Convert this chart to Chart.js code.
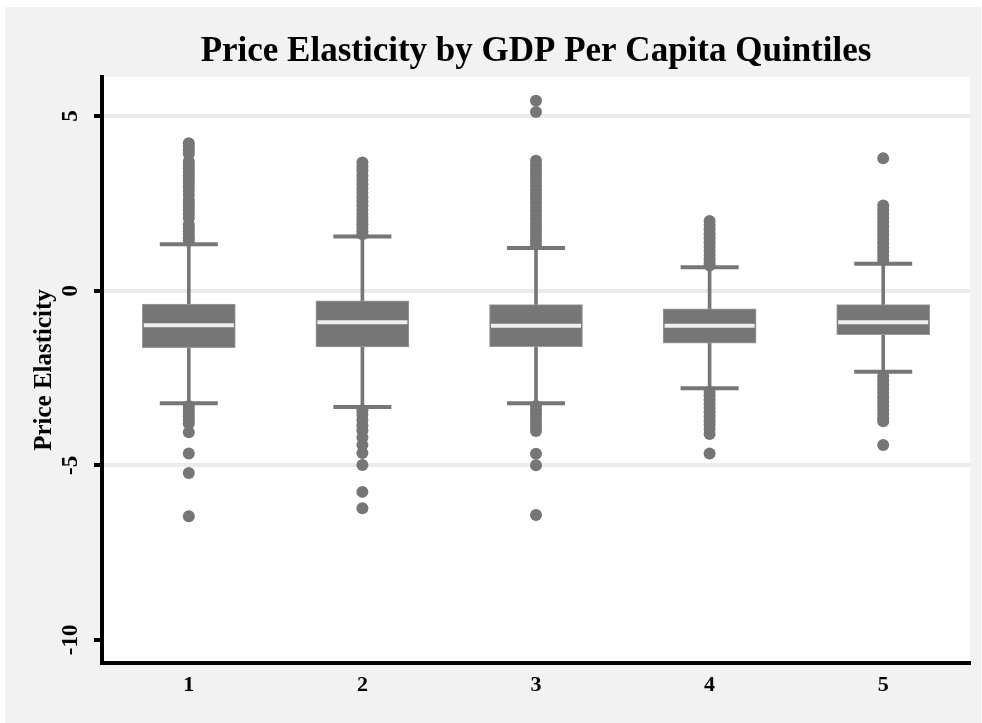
<!DOCTYPE html>
<html>
<head>
<meta charset="utf-8">
<title>Price Elasticity by GDP Per Capita Quintiles</title>
<script src="https://cdn.jsdelivr.net/npm/chart.js@4.4.1/dist/chart.umd.min.js"></script>
<style>
  html, body { margin: 0; padding: 0; background: #ffffff; }
  #panel { position: absolute; left: 5px; top: 7px; width: 976px; height: 716px; background: #f2f2f2; }
  #chart { display: block; }
</style>
</head>
<body>
<div id="panel"><canvas id="chart" width="976" height="716"></canvas></div>
<script>
// quintile categories and box statistics
const quintiles = ["1", "2", "3", "4", "5"];
const whiskerLow = [-3.22, -3.33, -3.22, -2.79, -2.32];
const lowerQuartile = [-1.63, -1.61, -1.60, -1.50, -1.26];
const medians = [-0.99, -0.90, -1.00, -1.00, -0.90];
const upperQuartile = [-0.38, -0.29, -0.40, -0.52, -0.40];
const whiskerHigh = [1.33, 1.55, 1.22, 0.67, 0.77];

// outliers per quintile
const outliers1 = [4.22, 4.12, 4.02, 3.92, 3.7, 3.6, 3.5, 3.4, 3.3, 3.2, 3.1, 2.98, 2.86, 2.74, 2.6, 2.5, 2.4, 2.3, 2.2, 2.08, 1.9, 1.8, 1.7, 1.6, 1.5, 1.43,
  -3.3, -3.4, -3.5, -3.6, -3.7, -3.8, -4.05, -4.66, -5.22, -6.46];
const outliers2 = [3.67, 3.56, 3.45, 3.3, 3.18, 3.05, 2.92, 2.8, 2.68, 2.56, 2.44, 2.32, 2.2, 2.1, 2.0, 1.9, 1.8, 1.7, 1.62,
  -3.42, -3.55, -3.7, -3.85, -4.0, -4.2, -4.42, -4.65, -4.99, -5.76, -6.23];
const outliers3 = [5.44, 5.12, 3.72, 3.6, 3.48, 3.36, 3.24, 3.12, 3.0, 2.88, 2.76, 2.64, 2.52, 2.4, 2.28, 2.16, 2.04, 1.92, 1.8, 1.68, 1.56, 1.44, 1.32,
  -3.3, -3.42, -3.54, -3.66, -3.78, -3.9, -4.02, -4.67, -5.0, -6.42];
const outliers4 = [2.0, 1.88, 1.76, 1.62, 1.5, 1.38, 1.26, 1.14, 1.02, 0.9, 0.8, 0.72,
  -2.9, -3.0, -3.12, -3.24, -3.36, -3.48, -3.6, -3.72, -3.84, -3.96, -4.1, -4.66];
const outliers5 = [3.79, 2.44, 2.32, 2.2, 2.08, 1.96, 1.84, 1.72, 1.6, 1.48, 1.36, 1.24, 1.12, 1.0, 0.88,
  -2.45, -2.57, -2.69, -2.81, -2.93, -3.05, -3.17, -3.29, -3.41, -3.53, -3.65, -3.74, -4.42];

// y axis
const yTicks = [-10, -5, 0, 5];
const yMin = -10.66;
const yMax = 6.12;

const GRAY = "#767676";
const SERIF = "'Liberation Serif', 'Times New Roman', serif";

const outlierLists = [outliers1, outliers2, outliers3, outliers4, outliers5];
const outlierPoints = [];
outlierLists.forEach((list, i) => {
  list.forEach((v) => outlierPoints.push({ x: quintiles[i], y: v }));
});

// white plotting panel inside the grey frame
const plotBackground = {
  id: "plotBackground",
  beforeDraw(chart) {
    const { ctx, chartArea } = chart;
    ctx.save();
    ctx.fillStyle = "#ffffff";
    ctx.fillRect(chartArea.left, chartArea.top, chartArea.right - chartArea.left, chartArea.bottom - chartArea.top);
    ctx.restore();
  },
};

const ctx = document.getElementById("chart").getContext("2d");

new Chart(ctx, {
  type: "bar",
  data: {
    labels: quintiles,
    datasets: [
      {
        label: "whisker",
        type: "bar",
        data: quintiles.map((_, i) => [whiskerLow[i], whiskerHigh[i]]),
        backgroundColor: GRAY,
        barThickness: 3,
        grouped: false,
        order: 6,
      },
      {
        label: "box",
        type: "bar",
        data: quintiles.map((_, i) => [lowerQuartile[i], upperQuartile[i]]),
        backgroundColor: GRAY,
        borderColor: "#9a9a9a",
        borderWidth: 1,
        borderSkipped: false,
        barThickness: 93,
        grouped: false,
        order: 5,
      },
      {
        label: "upper cap",
        type: "line",
        data: whiskerHigh,
        showLine: false,
        pointStyle: "line",
        pointRadius: 29,
        pointBorderWidth: 4,
        pointBorderColor: GRAY,
        order: 4,
      },
      {
        label: "lower cap",
        type: "line",
        data: whiskerLow,
        showLine: false,
        pointStyle: "line",
        pointRadius: 29,
        pointBorderWidth: 4,
        pointBorderColor: GRAY,
        order: 4,
      },
      {
        label: "outliers",
        type: "line",
        data: outlierPoints,
        showLine: false,
        pointRadius: 6,
        pointBorderWidth: 0,
        pointBackgroundColor: GRAY,
        order: 3,
      },
      {
        label: "median",
        type: "line",
        data: medians,
        showLine: false,
        pointStyle: "line",
        pointRadius: 45,
        pointBorderWidth: 4,
        pointBorderColor: "#f0f0f0",
        order: 1,
      },
    ],
  },
  options: {
    responsive: false,
    animation: false,
    events: [],
    // big point styles (caps, medians) would otherwise add overflow padding
    layout: { autoPadding: false, padding: { left: 0, right: 11, top: 0, bottom: 0 } },
    plugins: {
      legend: { display: false },
      tooltip: { enabled: false },
      title: {
        display: true,
        text: "Price Elasticity by GDP Per Capita Quintiles",
        color: "#000000",
        fullSize: false,
        font: { family: SERIF, size: 35, weight: "bold" },
        padding: { top: 24, bottom: 4 },
      },
    },
    scales: {
      x: {
        type: "category",
        offset: true,
        grid: { display: false, drawTicks: false },
        border: { display: true, color: "#000000", width: 4 },
        ticks: {
          color: "#000000",
          font: { family: SERIF, size: 22, weight: "bold" },
          padding: 9,
        },
        afterFit(scale) {
          scale.height = 60;
          scale.paddingLeft = 0;
          scale.paddingRight = 0;
        },
      },
      y: {
        min: yMin,
        max: yMax,
        afterBuildTicks(scale) {
          scale.ticks = yTicks.map((v) => ({ value: v }));
        },
        grid: {
          color: (c) => (c.tick && c.tick.value === -10 ? "rgba(0,0,0,0)" : "#ebebeb"),
          lineWidth: 4,
          tickColor: "#000000",
          tickWidth: 4,
          tickLength: 8,
        },
        border: { display: true, color: "#000000", width: 4 },
        ticks: {
          color: "#000000",
          font: { family: SERIF, size: 23, weight: "bold" },
          minRotation: 90,
          maxRotation: 90,
          crossAlign: "center",
          autoSkip: false,
          padding: 8,
        },
        title: {
          display: true,
          text: "Price Elasticity",
          color: "#000000",
          font: { family: SERIF, size: 25, weight: "bold" },
          padding: { top: 25, bottom: 0 },
        },
        afterFit(scale) {
          scale.width = 97;
          scale.paddingTop = 0;
          scale.paddingBottom = 0;
        },
      },
    },
  },
  plugins: [plotBackground],
});
</script>
</body>
</html>
